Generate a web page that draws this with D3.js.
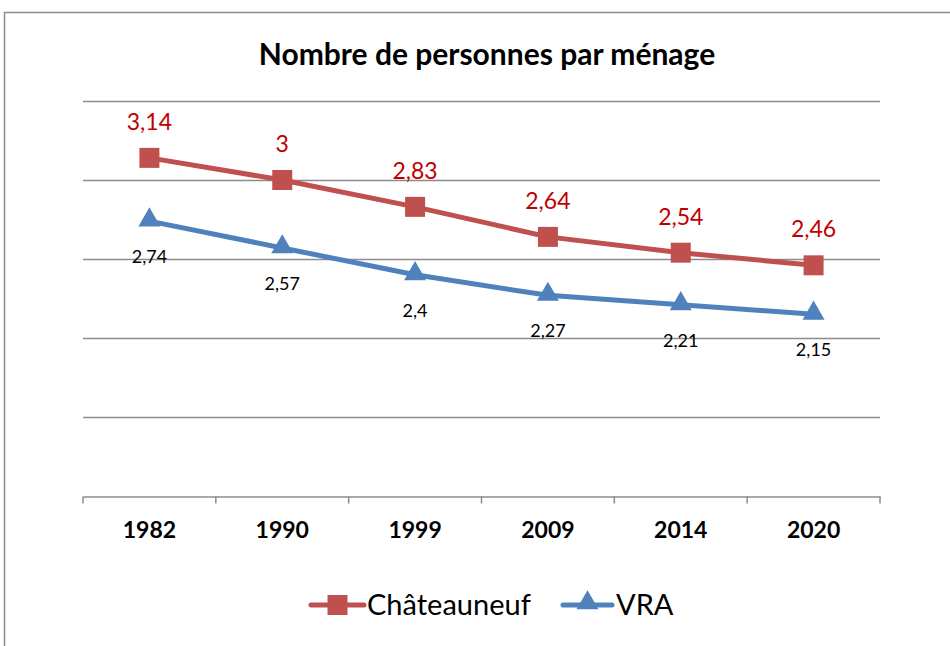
<!DOCTYPE html>
<html>
<head>
<meta charset="utf-8">
<script src="https://cdn.jsdelivr.net/npm/d3@7/dist/d3.min.js"></script>
<style>
  html, body { margin: 0; padding: 0; background: #fff; }
  svg { display: block; }
  text { font-family: Lato, "Open Sans", sans-serif; }
</style>
</head>
<body>
<svg id="chart" width="950" height="646"></svg>
<script>
const categories = ["1982", "1990", "1999", "2009", "2014", "2020"];
const chateauneuf = [3.14, 3.00, 2.83, 2.64, 2.54, 2.46];
const vra = [2.74, 2.57, 2.40, 2.27, 2.21, 2.15];
const yTicks = [1, 1.5, 2, 2.5, 3, 3.5];
const seriesNames = ["Châteauneuf", "VRA"];

const svg = d3.select("#chart");
const fmt = v => String(v).replace(".", ",");

// outer border
svg.append("rect").attr("x", 4.5).attr("y", 12.5).attr("width", 960).attr("height", 700)
  .attr("fill", "none").attr("stroke", "#8c8c8c").attr("stroke-width", 1.5);

const x = d3.scaleBand().domain(categories).range([83, 880]);
const y = d3.scaleLinear().domain([1, 3.5]).range([496, 101]);

// title
svg.append("text").attr("x", 487).attr("y", 65).attr("text-anchor", "middle")
  .attr("font-size", 30).attr("font-weight", "bold").attr("fill", "#000")
  .text("Nombre de personnes par ménage");

// gridlines
svg.append("g").selectAll("line").data(yTicks.filter(t => t > 1)).join("line")
  .attr("x1", 83).attr("x2", 880)
  .attr("y1", d => Math.round(y(d)) + 0.5).attr("y2", d => Math.round(y(d)) + 0.5)
  .attr("stroke", "#8c8c8c").attr("stroke-width", 1.5);

// x axis
const xAxis = d3.axisBottom(x).tickSize(0).tickPadding(25);
const gx = svg.append("g").attr("transform", "translate(0,496.5)").call(xAxis);
gx.select(".domain").attr("stroke", "#8c8c8c").attr("stroke-width", 1.5);
gx.selectAll("text").attr("font-size", 23).attr("font-weight", "bold").attr("fill", "#000")
  .attr("font-family", "Lato, sans-serif");
// boundary ticks
const bounds = categories.map(c => x(c)).concat([x.range()[1]]);
gx.selectAll(".btick").data(bounds).join("line").attr("class", "btick")
  .attr("x1", d => d).attr("x2", d => d).attr("y1", 0).attr("y2", 7)
  .attr("stroke", "#8c8c8c").attr("stroke-width", 1.5);

const cx = c => x(c) + x.bandwidth() / 2;
const line = d3.line().x((d, i) => cx(categories[i])).y(d => y(d));

const red = "#C0504D", blue = "#4F81BD";

svg.append("path").datum(chateauneuf).attr("d", line).attr("fill", "none")
  .attr("stroke", red).attr("stroke-width", 5).attr("stroke-linejoin", "round");
svg.append("path").datum(vra).attr("d", line).attr("fill", "none")
  .attr("stroke", blue).attr("stroke-width", 5).attr("stroke-linejoin", "round");

const sq = d3.symbol().type(d3.symbolSquare).size(400);
const tri = d3.symbol().type(d3.symbolTriangle).size(210);

svg.append("g").selectAll("path").data(chateauneuf).join("path")
  .attr("d", sq).attr("fill", red)
  .attr("transform", (d, i) => `translate(${cx(categories[i])},${y(d)})`);
svg.append("g").selectAll("path").data(vra).join("path")
  .attr("d", tri).attr("fill", blue)
  .attr("transform", (d, i) => `translate(${cx(categories[i])},${y(d) - 1})`);

// labels
svg.append("g").selectAll("text").data(chateauneuf).join("text")
  .attr("x", (d, i) => cx(categories[i])).attr("y", d => y(d) - 28)
  .attr("text-anchor", "middle").attr("font-size", 23).attr("fill", "#C00000")
  .text(d => fmt(d));
svg.append("g").selectAll("text").data(vra).join("text")
  .attr("x", (d, i) => cx(categories[i])).attr("y", d => y(d) + 42)
  .attr("text-anchor", "middle").attr("font-size", 18).attr("fill", "#000")
  .text(d => fmt(d));

// legend
const leg = svg.append("g");
const legItems = [
  { name: seriesNames[0], color: red, sym: sq, x1: 311, x2: 364, tx: 367 },
  { name: seriesNames[1], color: blue, sym: tri, x1: 563, x2: 612, tx: 616 }
];
legItems.forEach(it => {
  leg.append("line").attr("x1", it.x1).attr("x2", it.x2).attr("y1", 605).attr("y2", 605)
    .attr("stroke", it.color).attr("stroke-width", 5).attr("stroke-linecap", "round");
  leg.append("path").attr("d", it.sym).attr("fill", it.color)
    .attr("transform", `translate(${(it.x1 + it.x2) / 2},${it.sym === tri ? 603 : 605})`);
  leg.append("text").attr("x", it.tx).attr("y", 615).attr("font-size", 29).attr("fill", "#000")
    .text(it.name);
});
</script>
</body>
</html>
